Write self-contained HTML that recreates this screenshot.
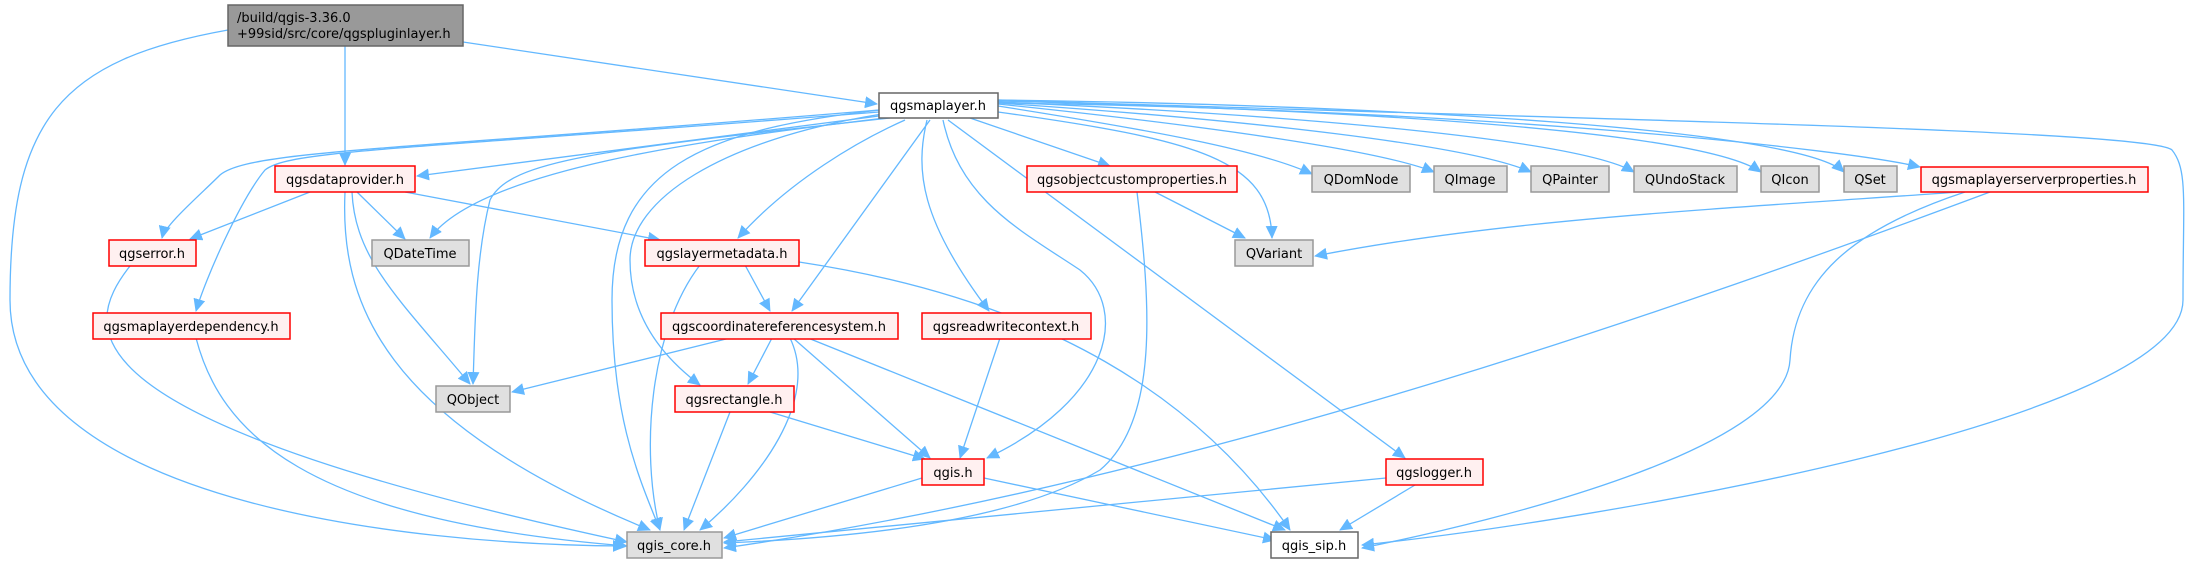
<!DOCTYPE html>
<html><head><meta charset="utf-8"><style>
html,body{margin:0;padding:0;background:#fff;}
svg{display:block;}
text{font-family:"DejaVu Sans","Liberation Sans",sans-serif;font-size:13px;fill:#000;}
</style></head><body>
<svg width="2192" height="564" viewBox="0 0 2192 564" xmlns="http://www.w3.org/2000/svg">
<defs>
<marker id="a" markerUnits="userSpaceOnUse" markerWidth="14" markerHeight="12" refX="12" refY="6" orient="auto">
<path d="M0,0 L13,6 L0,12 z" fill="#63b8ff"/>
</marker>
</defs>
<g fill="none" stroke="#63b8ff" stroke-width="1.3" marker-end="url(#a)">
<path d="M228,30 C60,60 10,120 10,300 C10,500 400,545 625,546"/>
<path d="M345,46 L345,165"/>
<path d="M463,42 L877,104"/>
<path d="M879,110 C400,150 250,150 220,175 C200,195 165,225 162,238"/>
<path d="M879,116 L417,176"/>
<path d="M885,118 C700,140 480,170 430,238"/>
<path d="M879,112 C400,150 290,150 265,170 C240,200 205,280 196,311"/>
<path d="M890,118 C600,150 510,160 490,200 C475,260 475,330 473,384"/>
<path d="M880,110 C700,130 612,170 612,300 C612,420 640,480 660,530"/>
<path d="M882,114 C720,140 630,200 630,260 C630,330 680,370 700,385"/>
<path d="M930,120 L792,311"/>
<path d="M905,120 C860,140 790,180 738,238"/>
<path d="M927,120 C915,170 920,220 989,311"/>
<path d="M943,120 C960,200 1020,230 1080,270 C1130,310 1110,400 987,458"/>
<path d="M948,120 L1405,458"/>
<path d="M998,100 C1600,120 2150,130 2172,150 C2188,170 2183,200 2183,300 C2183,420 1600,520 1362,545"/>
<path d="M970,118 L1110,166"/>
<path d="M998,106 C1150,130 1260,150 1312,174"/>
<path d="M998,104 C1200,125 1380,150 1434,172"/>
<path d="M998,103 C1250,120 1470,145 1531,172"/>
<path d="M998,102 C1300,115 1580,140 1634,172"/>
<path d="M998,101 C1350,110 1700,130 1761,172"/>
<path d="M998,100 C1400,105 1800,130 1844,172"/>
<path d="M998,112 C1200,140 1270,160 1272,238"/>
<path d="M998,103 C1500,110 1850,150 1920,167"/>
<path d="M1155,192 L1245,238"/>
<path d="M1137,192 C1150,300 1160,420 1100,470 C1000,530 800,540 724,543"/>
<path d="M1960,192 C1700,210 1500,220 1315,256"/>
<path d="M1990,192 C1700,300 1200,480 724,548"/>
<path d="M1965,192 C1850,230 1795,280 1790,360 C1785,450 1500,520 1362,548"/>
<path d="M310,192 L190,239"/>
<path d="M357,192 L405,239"/>
<path d="M405,192 L660,240"/>
<path d="M352,192 C355,260 400,300 470,384"/>
<path d="M345,192 C340,300 380,420 650,530"/>
<path d="M130,266 C80,330 60,420 627,542"/>
<path d="M745,265 L770,311"/>
<path d="M700,265 C650,330 640,450 660,530"/>
<path d="M799,262 C1050,300 1200,400 1290,530"/>
<path d="M196,338 C220,430 300,520 627,546"/>
<path d="M730,338 L512,392"/>
<path d="M772,338 L748,384"/>
<path d="M793,338 L930,458"/>
<path d="M790,338 C820,400 760,480 700,530"/>
<path d="M808,338 L1285,530"/>
<path d="M1000,338 L960,458"/>
<path d="M770,412 L925,459"/>
<path d="M730,412 L684,530"/>
<path d="M922,478 L724,538"/>
<path d="M984,478 L1275,540"/>
<path d="M1386,478 L724,542"/>
<path d="M1415,485 L1340,530"/>
</g>
<g stroke-width="1.5">
<rect x="228" y="5" width="235" height="41" fill="#999" stroke="#666"/>
<rect x="879" y="93" width="119" height="25" fill="#fff" stroke="#666"/>
<rect x="1271" y="532" width="87" height="26" fill="#fff" stroke="#666"/>
<g fill="#fff0f0" stroke="#f00">
<rect x="275" y="166" width="140" height="26"/>
<rect x="1027" y="166" width="210" height="26"/>
<rect x="1921" y="167" width="227" height="25"/>
<rect x="109" y="240" width="87" height="26"/>
<rect x="645" y="240" width="154" height="26"/>
<rect x="93" y="313" width="197" height="26"/>
<rect x="661" y="313" width="237" height="26"/>
<rect x="922" y="313" width="169" height="26"/>
<rect x="675" y="386" width="119" height="26"/>
<rect x="922" y="459" width="62" height="26"/>
<rect x="1386" y="459" width="97" height="26"/>
</g>
<g fill="#e0e0e0" stroke="#999">
<rect x="1312" y="166" width="98" height="26"/>
<rect x="1434" y="166" width="73" height="26"/>
<rect x="1531" y="166" width="78" height="26"/>
<rect x="1634" y="166" width="103" height="26"/>
<rect x="1761" y="166" width="58" height="26"/>
<rect x="1844" y="166" width="53" height="26"/>
<rect x="372" y="240" width="97" height="26"/>
<rect x="1235" y="240" width="78" height="26"/>
<rect x="436" y="386" width="74" height="26"/>
<rect x="627" y="532" width="95" height="26"/>
</g>
</g>
<g text-anchor="middle">
<text x="237" y="22" text-anchor="start">/build/qgis-3.36.0</text>
<text x="237" y="38" text-anchor="start">+99sid/src/core/qgspluginlayer.h</text>
<text x="938" y="110">qgsmaplayer.h</text>
<text x="1314" y="550">qgis_sip.h</text>
<text x="345" y="184">qgsdataprovider.h</text>
<text x="1132" y="184">qgsobjectcustomproperties.h</text>
<text x="2034" y="184">qgsmaplayerserverproperties.h</text>
<text x="152" y="258">qgserror.h</text>
<text x="722" y="258">qgslayermetadata.h</text>
<text x="191" y="331">qgsmaplayerdependency.h</text>
<text x="779" y="331">qgscoordinatereferencesystem.h</text>
<text x="1006" y="331">qgsreadwritecontext.h</text>
<text x="734" y="404">qgsrectangle.h</text>
<text x="953" y="477">qgis.h</text>
<text x="1434" y="477">qgslogger.h</text>
<text x="1361" y="184">QDomNode</text>
<text x="1470" y="184">QImage</text>
<text x="1570" y="184">QPainter</text>
<text x="1685" y="184">QUndoStack</text>
<text x="1790" y="184">QIcon</text>
<text x="1870" y="184">QSet</text>
<text x="420" y="258">QDateTime</text>
<text x="1274" y="258">QVariant</text>
<text x="473" y="404">QObject</text>
<text x="674" y="550">qgis_core.h</text>
</g>
</svg>
</body></html>
